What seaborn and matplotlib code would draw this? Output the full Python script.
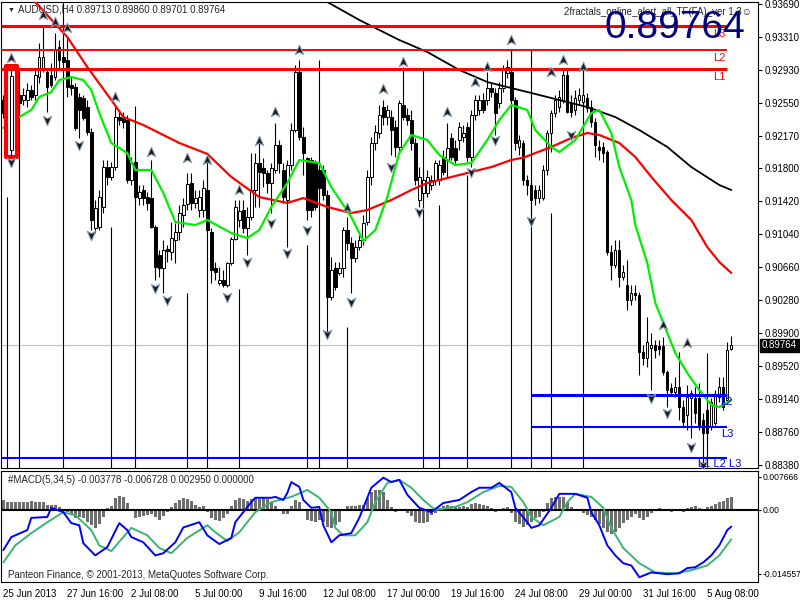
import matplotlib
matplotlib.use("Agg")
import matplotlib.pyplot as plt
from matplotlib.patches import Rectangle
from matplotlib.path import Path
import numpy as np
import seaborn as sns

# ---- AUDUSD H4 candles (bar index 0 = 25 Jun 2013 00:00) ----
opens = [0.9258, 0.9247, 0.9201, 0.9264, 0.9264, 0.9258, 0.9258, 0.9270, 0.9264, 0.9285,
         0.9293, 0.9291, 0.9287, 0.9285, 0.9319, 0.9308, 0.9305, 0.9276, 0.9273, 0.9262,
         0.9261, 0.9250, 0.9222, 0.9111, 0.9112, 0.9135, 0.9181, 0.9170, 0.9181, 0.9239,
         0.9238, 0.9235, 0.9166, 0.9187, 0.9146, 0.9155, 0.9147, 0.9146, 0.9112, 0.9080,
         0.9065, 0.9087, 0.9083, 0.9097, 0.9106, 0.9126, 0.9139, 0.9163, 0.9140, 0.9132,
         0.9132, 0.9155, 0.9106, 0.9065, 0.9048, 0.9051, 0.9045, 0.9071, 0.9098, 0.9120,
         0.9132, 0.9111, 0.9124, 0.9155, 0.9186, 0.9180, 0.9174, 0.9163, 0.9178, 0.9207,
         0.9178, 0.9143, 0.9184, 0.9224, 0.9291, 0.9216, 0.9192, 0.9189, 0.9186, 0.9178,
         0.9178, 0.9149, 0.9031, 0.9065, 0.9059, 0.9065, 0.9109, 0.9094, 0.9076, 0.9089,
         0.9097, 0.9118, 0.9170, 0.9209, 0.9220, 0.9250, 0.9239, 0.9239, 0.9227, 0.9204,
         0.9253, 0.9241, 0.9235, 0.9209, 0.9143, 0.9151, 0.9151, 0.9160, 0.9166, 0.9166,
         0.9193, 0.9189, 0.9215, 0.9203, 0.9212, 0.9216, 0.9227, 0.9193, 0.9241, 0.9247,
         0.9258, 0.9258, 0.9272, 0.9266, 0.9255, 0.9272, 0.9290, 0.9291, 0.9258, 0.9204,
         0.9209, 0.9166, 0.9160, 0.9155, 0.9146, 0.9146, 0.9178, 0.9220, 0.9243, 0.9250,
         0.9258, 0.9287, 0.9255, 0.9247, 0.9258, 0.9256, 0.9261, 0.9250, 0.9233, 0.9204,
         0.9204, 0.9198, 0.9083, 0.9068, 0.9086, 0.9055, 0.9045, 0.9028, 0.9036, 0.9034,
         0.8968, 0.8961, 0.8973, 0.8976, 0.8975, 0.8975, 0.8945, 0.8927, 0.8922, 0.8928,
         0.8905, 0.8896, 0.8915, 0.8915, 0.8915, 0.8890, 0.8901, 0.8882, 0.8886, 0.8916,
         0.8928, 0.8913, 0.89713]
highs = [0.9264, 0.9264, 0.9295, 0.9270, 0.9270, 0.9272, 0.9278, 0.9276, 0.9293, 0.9324,
         0.9343, 0.9293, 0.9301, 0.9336, 0.9328, 0.9316, 0.9331, 0.9285, 0.9278, 0.9266,
         0.9264, 0.9258, 0.9226, 0.9143, 0.9155, 0.9189, 0.9189, 0.9187, 0.9250, 0.9247,
         0.9245, 0.9241, 0.9193, 0.9195, 0.9160, 0.9160, 0.9152, 0.9189, 0.9114, 0.9086,
         0.9097, 0.9091, 0.9118, 0.9117, 0.9137, 0.9146, 0.9174, 0.9174, 0.9155, 0.9155,
         0.9166, 0.9180, 0.9111, 0.9072, 0.9066, 0.9063, 0.9072, 0.9101, 0.9143, 0.9143,
         0.9143, 0.9135, 0.9197, 0.9197, 0.9212, 0.9192, 0.9178, 0.9186, 0.9232, 0.9212,
         0.9186, 0.9189, 0.9232, 0.9299, 0.9305, 0.9227, 0.9193, 0.9193, 0.9189, 0.9184,
         0.9184, 0.9155, 0.9078, 0.9072, 0.9072, 0.9112, 0.9124, 0.9101, 0.9097, 0.9103,
         0.9126, 0.9178, 0.9216, 0.9230, 0.9253, 0.9258, 0.9253, 0.9247, 0.9235, 0.9258,
         0.9296, 0.9249, 0.9247, 0.9215, 0.9181, 0.9178, 0.9178, 0.9172, 0.9189, 0.9189,
         0.9201, 0.9232, 0.9220, 0.9212, 0.9233, 0.9230, 0.9233, 0.9247, 0.9264, 0.9264,
         0.9266, 0.9291, 0.9278, 0.9272, 0.9279, 0.9299, 0.9305, 0.9316, 0.9262, 0.9218,
         0.9212, 0.9172, 0.9170, 0.9160, 0.9160, 0.9184, 0.9224, 0.9247, 0.9264, 0.9270,
         0.9295, 0.9293, 0.9264, 0.9270, 0.9272, 0.9293, 0.9266, 0.9258, 0.9238, 0.9212,
         0.9210, 0.9201, 0.9091, 0.9097, 0.9097, 0.9068, 0.9074, 0.9045, 0.9045, 0.9037,
         0.8976, 0.9008, 0.8990, 0.8982, 0.8982, 0.8985, 0.8947, 0.8932, 0.8939, 0.8968,
         0.8913, 0.8930, 0.8924, 0.8928, 0.8932, 0.8898, 0.8967, 0.8915, 0.8924, 0.8939,
         0.8939, 0.8980, 0.89860]
lows = [0.9238, 0.9235, 0.9193, 0.9241, 0.9247, 0.9253, 0.9250, 0.9258, 0.9258, 0.9278,
        0.9291, 0.9245, 0.9273, 0.9281, 0.9293, 0.9299, 0.9262, 0.9264, 0.9224, 0.9215,
        0.9235, 0.9218, 0.9109, 0.9105, 0.9109, 0.9128, 0.9160, 0.9166, 0.9178, 0.9230,
        0.9226, 0.9163, 0.9160, 0.9143, 0.9137, 0.9137, 0.9132, 0.9111, 0.9051, 0.9055,
        0.9036, 0.9072, 0.9074, 0.9071, 0.9097, 0.9112, 0.9132, 0.9132, 0.9134, 0.9124,
        0.9124, 0.9106, 0.9048, 0.9051, 0.9045, 0.9043, 0.9043, 0.9068, 0.9097, 0.9112,
        0.9105, 0.9080, 0.9120, 0.9135, 0.9135, 0.9158, 0.9151, 0.9128, 0.9174, 0.9174,
        0.9140, 0.9089, 0.9178, 0.9222, 0.9212, 0.9172, 0.9120, 0.9124, 0.9132, 0.9149,
        0.9143, 0.8985, 0.9028, 0.9040, 0.9057, 0.9055, 0.9086, 0.9036, 0.9072, 0.9086,
        0.9091, 0.9114, 0.9160, 0.9201, 0.9215, 0.9230, 0.9230, 0.9195, 0.9193, 0.9197,
        0.9235, 0.9230, 0.9201, 0.9160, 0.9135, 0.9146, 0.9147, 0.9155, 0.9160, 0.9160,
        0.9172, 0.9170, 0.9189, 0.9186, 0.9201, 0.9210, 0.9187, 0.9181, 0.9235, 0.9241,
        0.9243, 0.9253, 0.9262, 0.9218, 0.9249, 0.9268, 0.9284, 0.9255, 0.9201, 0.9195,
        0.9160, 0.9149, 0.9124, 0.9137, 0.9140, 0.9143, 0.9172, 0.9198, 0.9239, 0.9245,
        0.9255, 0.9243, 0.9239, 0.9241, 0.9253, 0.9247, 0.9245, 0.9227, 0.9193, 0.9189,
        0.9187, 0.9080, 0.9051, 0.9065, 0.9043, 0.9051, 0.9017, 0.9022, 0.9028, 0.8942,
        0.8953, 0.8951, 0.8924, 0.8961, 0.8965, 0.8942, 0.8905, 0.8919, 0.8916, 0.8890,
        0.8882, 0.8878, 0.8869, 0.8886, 0.8878, 0.8840, 0.8836, 0.8878, 0.8884, 0.8911,
        0.8901, 0.8911, 0.89701]
closes = [0.9243, 0.9258, 0.9286, 0.9253, 0.9255, 0.9264, 0.9270, 0.9262, 0.9287, 0.9308,
          0.9308, 0.9273, 0.9276, 0.9316, 0.9305, 0.9302, 0.9273, 0.9272, 0.9226, 0.9247,
          0.9238, 0.9222, 0.9120, 0.9134, 0.9147, 0.9181, 0.9170, 0.9181, 0.9239, 0.9235,
          0.9233, 0.9166, 0.9186, 0.9147, 0.9152, 0.9146, 0.9140, 0.9112, 0.9066, 0.9065,
          0.9086, 0.9084, 0.9099, 0.9106, 0.9128, 0.9137, 0.9162, 0.9140, 0.9146, 0.9147,
          0.9157, 0.9109, 0.9063, 0.9060, 0.9051, 0.9045, 0.9071, 0.9098, 0.9135, 0.9131,
          0.9111, 0.9124, 0.9155, 0.9186, 0.9176, 0.9174, 0.9163, 0.9180, 0.9207, 0.9186,
          0.9147, 0.9184, 0.9224, 0.9291, 0.9216, 0.9197, 0.9132, 0.9132, 0.9135, 0.9157,
          0.9149, 0.9031, 0.9063, 0.9043, 0.9065, 0.9109, 0.9094, 0.9076, 0.9089, 0.9097,
          0.9117, 0.9170, 0.9209, 0.9222, 0.9241, 0.9239, 0.9247, 0.9224, 0.9204, 0.9255,
          0.9239, 0.9235, 0.9209, 0.9166, 0.9170, 0.9166, 0.9170, 0.9166, 0.9186, 0.9184,
          0.9176, 0.9203, 0.9193, 0.9189, 0.9227, 0.9220, 0.9193, 0.9241, 0.9258, 0.9258,
          0.9247, 0.9272, 0.9268, 0.9243, 0.9272, 0.9295, 0.9296, 0.9258, 0.9209, 0.9212,
          0.9166, 0.9160, 0.9143, 0.9146, 0.9155, 0.9178, 0.9220, 0.9243, 0.9258, 0.9262,
          0.9287, 0.9245, 0.9245, 0.9261, 0.9264, 0.9264, 0.9249, 0.9233, 0.9207, 0.9201,
          0.9197, 0.9083, 0.9068, 0.9086, 0.9055, 0.9060, 0.9028, 0.9036, 0.9034, 0.8968,
          0.8961, 0.8980, 0.8976, 0.8970, 0.8972, 0.8945, 0.8924, 0.8922, 0.8928, 0.8905,
          0.8888, 0.8916, 0.8921, 0.8898, 0.8882, 0.8875, 0.8875, 0.8911, 0.8919, 0.8928,
          0.8905, 0.8970, 0.89764]

# moving averages (sampled along the drawn curves)
black_ma_idx = [78, 81, 89, 99, 106, 114, 121, 127, 132, 137, 146, 153, 159, 166, 172, 179, 182]
black_ma = [0.9380, 0.93713, 0.93506, 0.93275, 0.93137, 0.92930, 0.92791, 0.92722, 0.92665,
            0.92607, 0.92503, 0.92388, 0.92238, 0.92043, 0.91812, 0.91605, 0.91547]
red_ma_idx = [6, 8, 16, 21, 27, 30, 35, 44, 51, 57, 64, 71, 75, 81, 87, 91, 97, 102, 106, 114,
              122, 127, 130, 137, 142, 146, 149, 154, 158, 162, 167, 172, 176, 179, 182]
red_ma = [0.9385, 0.93713, 0.93310, 0.92964, 0.92584, 0.92388, 0.92296, 0.92089, 0.91963, 0.91698,
          0.91466, 0.91398, 0.91455, 0.91352, 0.91282, 0.91317, 0.91432, 0.91547, 0.91628, 0.91720,
          0.91812, 0.91893, 0.91920, 0.92043, 0.92146, 0.92204, 0.92181, 0.92089, 0.91928, 0.91698,
          0.91432, 0.91202, 0.90890, 0.90718, 0.90592]
green_ma_idx = [0, 4, 7, 9, 12, 14, 17, 20, 22, 24, 27, 31, 33, 37, 40, 43, 48, 51, 57, 61,
                64, 67, 71, 74, 79, 82, 87, 90, 93, 96, 99, 102, 106, 109, 113, 117, 121, 124, 127, 131,
                133, 137, 139, 143, 147, 149, 152, 154, 157, 158, 161, 163, 166, 168, 171, 174, 177, 179, 182]
green_ma = [0.92262, 0.92388, 0.92469, 0.92619, 0.92676, 0.92814, 0.92849, 0.92814, 0.92699, 0.92434,
            0.92089, 0.91973, 0.91778, 0.91778, 0.91513, 0.91179, 0.91144, 0.91202, 0.91052, 0.90994,
            0.91086, 0.91351, 0.91628, 0.91893, 0.91858, 0.91582, 0.91236, 0.90960, 0.91086, 0.91467,
            0.91973, 0.92181, 0.92123, 0.91951, 0.91835, 0.91858, 0.92123, 0.92354, 0.92527, 0.92469,
            0.92238, 0.92043, 0.91985, 0.92123, 0.92434, 0.92469, 0.92204, 0.91812, 0.91432, 0.91144,
            0.90706, 0.90246, 0.89900, 0.89670, 0.89439, 0.89243, 0.89070, 0.89047, 0.89128]

# fractals
up_idx = [2, 10, 13, 16, 28, 37, 46, 51, 59, 64, 68, 74, 86, 95, 100, 111, 118, 121, 127,
          137, 140, 145, 165, 171]
up_price = [0.93068, 0.93563, 0.93483, 0.93414, 0.92619, 0.91985, 0.91916, 0.91893, 0.91547,
            0.92112, 0.92446, 0.93160, 0.91340, 0.92711, 0.93022, 0.92446, 0.92791, 0.92964,
            0.93275, 0.92907, 0.93045, 0.92964, 0.89992, 0.89785]
down_idx = [2, 11, 19, 22, 38, 41, 56, 61, 67, 71, 76, 81, 87, 97, 104, 117, 123, 132, 142,
            162, 166, 172, 175]
down_price = [0.91870, 0.92354, 0.92066, 0.91029, 0.90418, 0.90280, 0.90315, 0.90718, 0.91167,
              0.90822, 0.91086, 0.89888, 0.90257, 0.91812, 0.91294, 0.91755, 0.92123, 0.91190,
              0.92181, 0.89151, 0.88978, 0.88587, 0.88379]
vline_idx = [1, 4, 15, 27, 33, 46, 51, 59, 76, 79, 86, 105, 109, 116, 127, 132, 137, 145]
vline_top = [0.9147, 0.9295, 0.9380, 0.9112, 0.9252, 0.9036, 0.9189, 0.9041, 0.9091, 0.9305,
             0.8997, 0.9293, 0.9137, 0.9172, 0.9316, 0.9316, 0.9128, 0.9293]

# levels
red_levels = [0.9294, 0.9316, 0.9344]
red_names = ["L1", "L2", "L3"]
blue_levels = [0.8919, 0.8882, 0.8846]
last_price = 0.89764

# MACD(5,34,5)
macd_hist = [0.0023, 0.0018, 0.0018, 0.0018, 0.0018, 0.0018, 0.0018, 0.0021, 0.0018, 0.0018, 0.0018,
             0.0012, 0.0012, 0.0012, 0.0007, 0.0002, -0.0005, -0.0012, -0.0018, -0.0016, -0.0018,
             -0.0028, -0.0035, -0.0041, -0.0032, -0.0016, 0.0005, 0.0009, 0.0028, 0.0032, 0.0030,
             0.0016, 0.0002, -0.0018, -0.0016, -0.0014, -0.0012, -0.0009, -0.0016, -0.0023, -0.0014,
             -0.0005, 0.0007, 0.0016, 0.0023, 0.0028, 0.0025, 0.0021, 0.0012, 0.0007, 0.0009,
             -0.0005, -0.0018, -0.0023, -0.0025, -0.0018, -0.0009, 0.0009, 0.0023, 0.0028, 0.0025,
             0.0021, 0.0025, 0.0028, 0.0025, 0.0028, 0.0025, 0.0018, 0.0009, 0.0002, -0.0009,
             -0.0009, 0.0009, 0.0023, 0.0018, 0.0002, -0.0023, -0.0025, -0.0028, -0.0023, -0.0028,
             -0.0039, -0.0041, -0.0035, -0.0028, 0.0002, 0.0009, 0.0009, 0.0009, 0.0012, 0.0012,
             0.0028, 0.0041, 0.0046, 0.0046, 0.0041, 0.0023, 0.0007, -0.0005, 0.0002, 0.0002,
             -0.0007, -0.0014, -0.0028, -0.0030, -0.0030, -0.0028, -0.0012, -0.0007, 0.0005, 0.0009,
             0.0012, 0.0009, 0.0007, 0.0007, 0.0009, 0.0007, 0.0014, 0.0016, 0.0014, 0.0012,
             0.0009, 0.0005, -0.0005, -0.0002, 0.0005, 0.0007, -0.0007, -0.0028, -0.0032, -0.0039,
             -0.0035, -0.0028, -0.0018, -0.0016, -0.0005, 0.0016, 0.0028, 0.0030, 0.0030, 0.0030,
             0.0018, 0.0007, 0.0002, -0.0002, -0.0007, -0.0012, -0.0016, -0.0023, -0.0032, -0.0041,
             -0.0051, -0.0055, -0.0051, -0.0041, -0.0030, -0.0023, -0.0016, -0.0009, -0.0018, -0.0023,
             -0.0016, -0.0007, 0.0002, 0.0005, 0.0002, -0.0002, -0.0005, 0.0002, -0.0002, -0.0005,
             0.0005, 0.0007, 0.0009, 0.0005, 0.0002, 0.0007, 0.0009, 0.0014, 0.0018, 0.0021, 0.0028, 0.00295]
macd_idx = [0, 2, 6, 7, 11, 12, 15, 17, 19, 20, 23, 26, 29, 31, 32, 35, 38, 40, 43, 45,
            49, 51, 54, 57, 58, 62, 63, 67, 68, 70, 71, 72, 74, 75, 77, 79, 80, 82, 84, 87,
            89, 92, 95, 97, 99, 101, 104, 107, 110, 114, 117, 119, 122, 124, 127, 128, 131, 132, 134, 137,
            139, 143, 146, 147, 149, 151, 153, 155, 157, 159, 162, 166, 169, 171, 173, 175, 177, 179, 181, 182]
macd_main = [-0.0092, -0.0062, -0.0046, -0.0018, -0.0016, 0.0005, -0.0005, -0.0030, -0.0035, -0.0076,
             -0.0104, -0.0085, -0.0030, -0.0046, -0.0062, -0.0074, -0.0104, -0.0099, -0.0074, -0.0040,
             -0.0028, -0.0058, -0.0078, -0.0064, -0.0028, 0.0018, 0.0028, 0.0028, 0.0030, 0.0023,
             0.0039, 0.0064, 0.0053, 0.0023, 0.0005, 0.0007, -0.0035, -0.0074, -0.0058, -0.0053,
             -0.0018, 0.0051, 0.0074, 0.0064, 0.0069, 0.0035, 0.0005, -0.0005, 0.0016, 0.0023,
             0.0041, 0.0051, 0.0051, 0.0062, 0.0041, 0.0005, -0.0028, -0.0041, -0.0035, 0.0005,
             0.0037, 0.0037, 0.0028, -0.0005, -0.0035, -0.0081, -0.0104, -0.0122, -0.0127, -0.0154,
             -0.0143, -0.0147, -0.0145, -0.0133, -0.0131, -0.0120, -0.0104, -0.0081, -0.0046, -0.0038]
sig_idx = [0, 3, 7, 11, 15, 18, 22, 24, 27, 30, 32, 36, 39, 42, 46, 51, 53, 56, 59, 63,
           67, 72, 76, 79, 82, 83, 85, 88, 91, 93, 96, 99, 102, 105, 108, 113, 116, 120, 124, 127,
           130, 132, 135, 139, 141, 143, 147, 150, 152, 155, 159, 163, 168, 172, 176, 179, 182]
macd_signal = [-0.0120, -0.0081, -0.0053, -0.0028, -0.0005, -0.0012, -0.0046, -0.0081, -0.0094, -0.0062,
               -0.0041, -0.0058, -0.0087, -0.0099, -0.0064, -0.0035, -0.0051, -0.0071, -0.0051, -0.0005,
               0.0018, 0.0030, 0.0046, 0.0028, -0.0005, -0.0041, -0.0058, -0.0058, -0.0028, 0.0018,
               0.0062, 0.0069, 0.0051, 0.0023, 0.0000, 0.0007, 0.0018, 0.0041, 0.0055, 0.0053,
               0.0018, -0.0016, -0.0035, -0.0016, 0.0018, 0.0037, 0.0030, 0.0005, -0.0041, -0.0087,
               -0.0122, -0.0143, -0.0145, -0.0138, -0.0127, -0.0104, -0.0067]

date_ticks = [0, 16, 32, 48, 64, 80, 96, 112, 128, 144, 160, 176]
date_labels = ["25 Jun 2013", "27 Jun 16:00", "2 Jul 08:00", "5 Jul 00:00", "9 Jul 16:00",
               "12 Jul 08:00", "17 Jul 00:00", "19 Jul 16:00", "24 Jul 08:00", "29 Jul 00:00",
               "31 Jul 16:00", "5 Aug 08:00"]
price_ticks = [0.93690, 0.93310, 0.92930, 0.92550, 0.92170, 0.91800, 0.91420, 0.91040,
               0.90660, 0.90280, 0.89900, 0.89520, 0.89140, 0.88760, 0.88380]
macd_ticks = [0.007666, 0.0, -0.014557]
macd_tick_labels = ["0.007666", "0.00", "-0.014557"]

sns.set_theme(style="white")
plt.rcParams['font.family'] = ['Liberation Sans', 'DejaVu Sans']
plt.rcParams['axes.edgecolor'] = 'black'
plt.rcParams['axes.linewidth'] = 0.8

W, H = 800, 600
fig = plt.figure(figsize=(8, 6), dpi=100, facecolor='white')

def fx(px):
    return px / W

def fy(py):
    return 1 - py / H

ax = fig.add_axes([fx(1), fy(468), (758 - 1) / W, (468 - 2) / H])
mx = fig.add_axes([fx(1), fy(582), (758 - 1) / W, (582 - 471) / H])

x0, x1 = -0.575, 188.675
ax.set_xlim(x0, x1)
ax.set_ylim(0.88345, 0.93713)
mx.set_xlim(x0, x1)
mx.set_ylim(-0.01649, 0.00893)

# current price line and fractal vertical lines
ax.axhline(last_price, color='#c0c0c0', lw=0.8, zorder=1)
ax.vlines(vline_idx, 0.88345, vline_top, color='black', lw=0.8, zorder=2)

# candles
for i, (o, h, l, c) in enumerate(zip(opens, highs, lows, closes)):
    bull = c >= o
    ax.vlines(i, l, h, color='black', lw=0.8, zorder=3)
    ax.add_patch(Rectangle((i - 0.3, min(o, c)), 0.6, max(abs(c - o), 0.00004),
                           facecolor='white' if bull else 'black', edgecolor='black',
                           lw=0.7, zorder=4))

# highlighted box around bar 2
ax.add_patch(Rectangle((0.675, 0.91927), 2.75, 0.01049, facecolor='white', edgecolor='#ff0000',
                       lw=3, zorder=5.5, joinstyle='round'))
ax.vlines(2, lows[2], highs[2], color='black', lw=0.8, zorder=5.6)
ax.add_patch(Rectangle((1.7, opens[2]), 0.6, closes[2] - opens[2], facecolor='white',
                       edgecolor='black', lw=0.7, zorder=5.7))

# moving averages
sns.lineplot(x=black_ma_idx, y=black_ma, ax=ax, color='black', linewidth=1.3, zorder=5)
sns.lineplot(x=red_ma_idx, y=red_ma, ax=ax, color='#ff0000', linewidth=1.6, zorder=5)
sns.lineplot(x=green_ma_idx, y=green_ma, ax=ax, color='#00ee00', linewidth=1.6, zorder=5)

# levels
for lev, lw in zip(red_levels, [2.2, 1.4, 2.2]):
    ax.hlines(lev, x0, 181, color='#ff0000', lw=lw, zorder=6)
ax.hlines(blue_levels[0], 132, 181, color='#0000ff', lw=2.2, zorder=6)
ax.hlines(blue_levels[1], 132, 181, color='#0000ff', lw=1.5, zorder=6)
ax.hlines(blue_levels[2], x0, 181, color='#0000ff', lw=1.5, zorder=6)

# fractal arrows
up_marker = Path([(0, 1), (0.8, -0.8), (0, -0.35), (-0.8, -0.8), (0, 1)],
                 [Path.MOVETO, Path.LINETO, Path.LINETO, Path.LINETO, Path.CLOSEPOLY])
down_marker = Path([(0, -1), (0.8, 0.8), (0, 0.35), (-0.8, 0.8), (0, -1)],
                   [Path.MOVETO, Path.LINETO, Path.LINETO, Path.LINETO, Path.CLOSEPOLY])
ax.scatter(up_idx, up_price, marker=up_marker, s=60, facecolor='#1c1c1c',
           edgecolor='#8fa3b8', linewidth=0.7, zorder=7)
ax.scatter(down_idx, down_price, marker=down_marker, s=60, facecolor='#1c1c1c',
           edgecolor='#8fa3b8', linewidth=0.7, zorder=7)

# axes cosmetics
ax.set_xticks([])
ax.yaxis.tick_right()
ax.set_yticks(price_ticks)
ax.set_yticklabels([f"{p:.5f}" for p in price_ticks])
ax.tick_params(axis='y', direction='out', length=3, width=0.8, pad=2, labelsize=7, colors='black')

# MACD panel
mx.bar(range(len(macd_hist)), macd_hist, width=0.78, color='#6e6e6e', linewidth=0, zorder=2)
mx.axhline(0, color='black', lw=1.5, zorder=3)
sns.lineplot(x=sig_idx, y=macd_signal, ax=mx, color='#3cb371', linewidth=1.4, zorder=4)
sns.lineplot(x=macd_idx, y=macd_main, ax=mx, color='#0000ff', linewidth=1.4, zorder=5)
mx.yaxis.tick_right()
mx.set_yticks(macd_ticks)
mx.set_yticklabels(macd_tick_labels)
mx.tick_params(axis='y', direction='out', length=2, width=0.8, pad=1, labelsize=6.2, colors='black')
mx.set_xticks(date_ticks)
mx.set_xticklabels(date_labels)
mx.tick_params(axis='x', direction='out', length=3, width=0.8, pad=2, labelsize=7, colors='black')
for lab in mx.get_xticklabels():
    lab.set_ha('left')
for a in (ax, mx):
    a.set_xlabel('')
    a.set_ylabel('')

# texts
fig.text(fx(8), fy(10), "\u25bc", fontsize=5, va='center', ha='left')
fig.text(fx(18), fy(10), "AUDUSD,H4 0.89713 0.89860 0.89701 0.89764", fontsize=7,
         va='center', ha='left')
fig.text(fx(752), fy(12), "2fractals_online_alert_all_TF(FA)_ver 1.3\u263a", fontsize=7,
         va='center', ha='right', family=['Liberation Sans', 'DejaVu Sans'])
for name, lev in zip(red_names, red_levels):
    fig.text(fx(713), fy(4 + (0.9369 - lev) * 8684 + 8), name, fontsize=8, color='#ff0000',
             va='center', ha='left')
fig.text(fx(605), fy(38), "0.89764", fontsize=28, color='#000080', va='baseline', ha='left')
fig.text(fx(720), fy(402), "L2", fontsize=8, color='#0000ff', va='center', ha='left')
fig.text(fx(721), fy(434), "L3", fontsize=8, color='#0000ff', va='center', ha='left')
fig.text(fx(698), fy(464), "L1 L2 L3", fontsize=8, color='#0000ff', va='center', ha='left')
fig.text(fx(762), fy(345.5), "0.89764", fontsize=7, color='white', va='center', ha='left',
         bbox=dict(boxstyle='square,pad=0.2', fc='black', ec='black'))
fig.text(fx(8), fy(480), "#MACD(5,34,5) -0.003778 -0.006728 0.002950 0.000000", fontsize=7,
         va='center', ha='left')
fig.text(fx(8), fy(575), "Panteon Finance, \u00a9 2001-2013, MetaQuotes Software Corp.", fontsize=7,
         va='center', ha='left')

fig.savefig("out.png", dpi=100, facecolor='white')
